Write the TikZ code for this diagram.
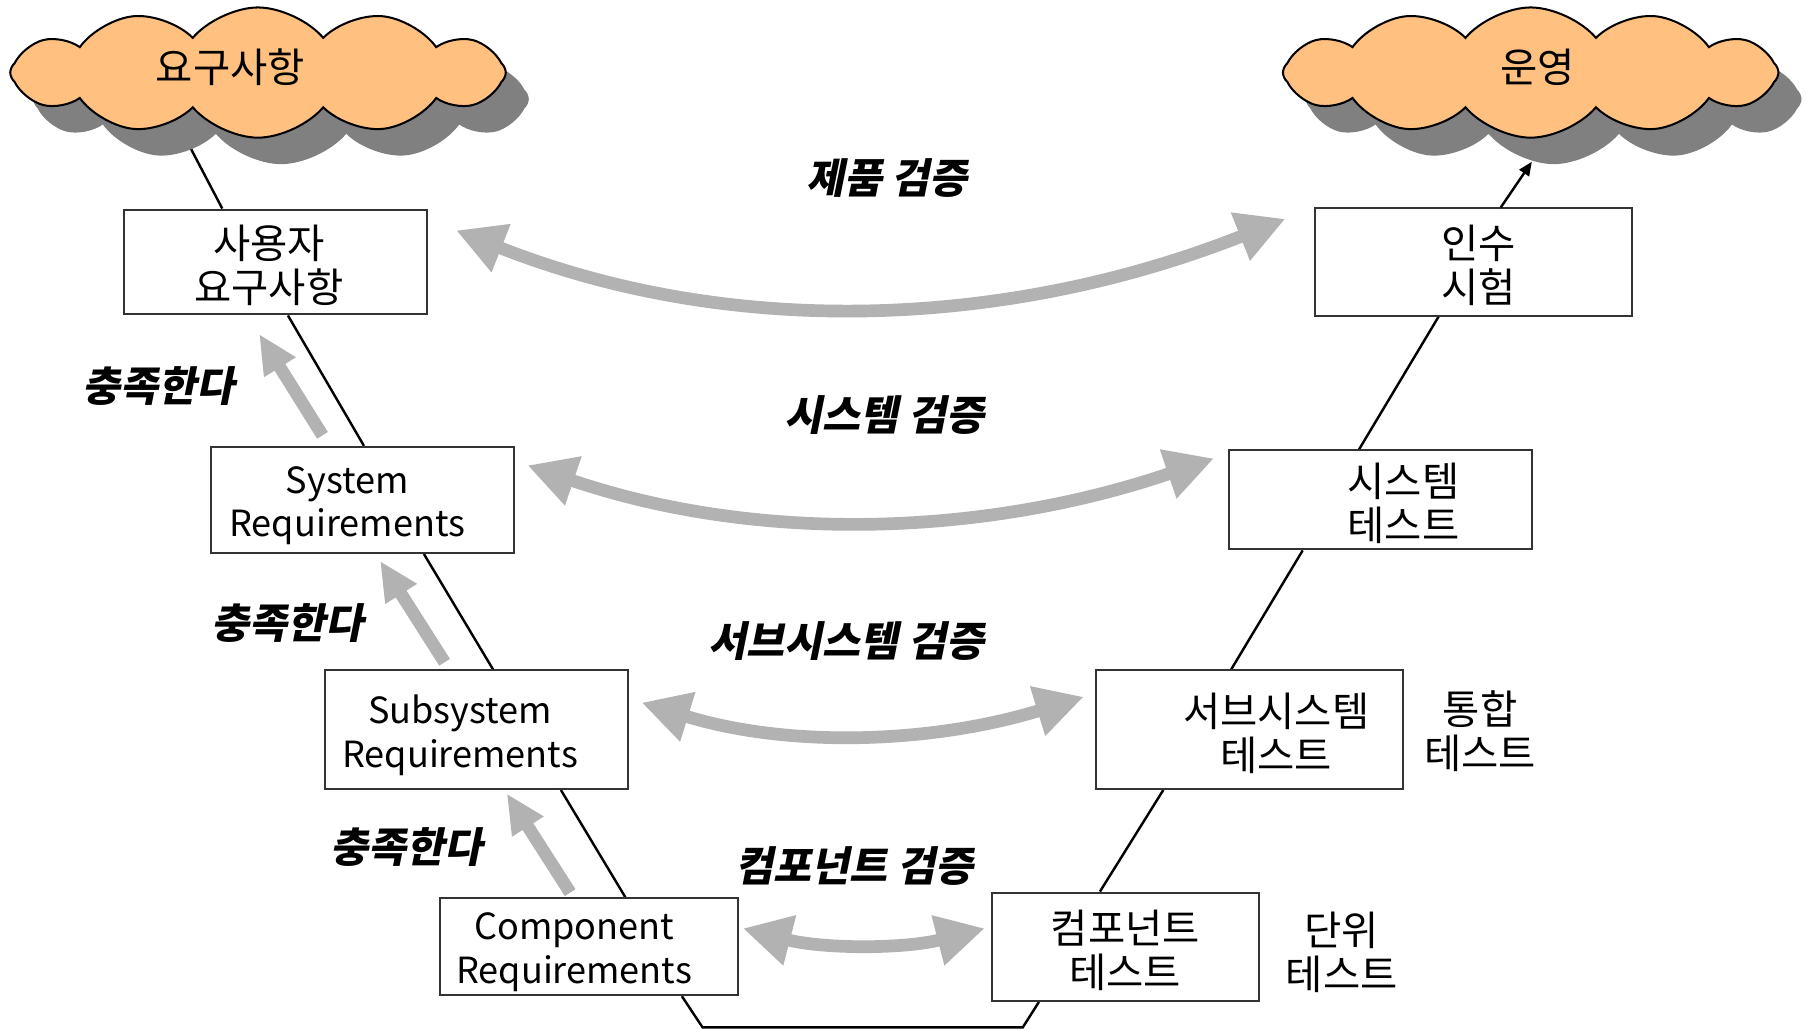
\documentclass[tikz,border=0pt]{standalone}
\usepackage{fontspec}
\setmainfont{Noto Sans CJK KR}
\newfontfamily\slantfont[FakeSlant=0.2]{Noto Sans CJK KR}
\usetikzlibrary{arrows.meta,shapes.symbols,shadows,calc,backgrounds}

\definecolor{cloudorange}{RGB}{255,192,128}
\definecolor{arrowgray}{RGB}{178,178,178}

\tikzset{
  boxfont/.style = {font=\fontsize{10}{11}\selectfont},
  latinfont/.style = {font=\fontsize{8.9}{10.8}\selectfont},
  reqbox/.style = {draw=black!80, line width=.5pt, fill=white, inner sep=0pt},
  boxtext/.style = {align=center, boxfont, yshift=-.03cm},
  entext/.style = {align=center, latinfont, yshift=-.05cm},
  wish/.style = {cloud, cloud puffs=12, cloud puff arc=100, cloud ignores aspect,
    draw=black, line width=.5pt, fill=cloudorange,
    minimum width=4.3cm, minimum height=1.13cm,
    drop shadow={shadow xshift=.2cm, shadow yshift=-.23cm, fill=black!50, opacity=1}},
  vline/.style = {draw=black, line width=.6pt},
  satisfy/.style = {draw=arrowgray, line width=.11cm, -{Triangle[length=.34cm,width=.3cm]}},
  verify/.style = {draw=arrowgray, line width=.11cm,
    {Triangle[length=.42cm,width=.42cm]}-{Triangle[length=.42cm,width=.42cm]}},
  tag/.style = {font=\slantfont\bfseries\fontsize{10.2}{11}\selectfont},
}

\begin{document}
\begin{tikzpicture}[x=0.01cm, y=-0.01cm]
  \useasboundingbox (0,0) rectangle (1568,894);

  % clouds
  \node[wish] (reqL) at (224,63) {};
  \node[boxfont] (reqLtxt) at (200,58) {요구사항};
  \node[wish] (opR) at (1329,63) {};
  \node[boxfont] (opRtxt) at (1335,58) {운영};

  % left side
  \node[reqbox, minimum width=2.63cm, minimum height=.91cm,
    label={[boxtext, xshift=-.06cm]center:{사용자\\요구사항}}] (usr) at (239.5,227.5) {};
  \node[reqbox, minimum width=2.63cm, minimum height=.92cm,
    label={[entext, xshift=-.13cm]center:{System\\Requirements}}] (sysreq) at (314.5,434) {};
  \node[reqbox, minimum width=2.63cm, minimum height=1.03cm,
    label={[entext, xshift=-.14cm]center:{Subsystem\\Requirements}}] (subreq) at (413.5,633.5) {};
  \node[reqbox, minimum width=2.59cm, minimum height=.84cm,
    label={[entext, xshift=-.13cm]center:{Component\\Requirements}}] (compreq) at (511.5,822) {};

  % right side
  \node[reqbox, minimum width=2.75cm, minimum height=.93cm,
    label={[boxtext, xshift=.04cm]center:{인수\\시험}}] (acc) at (1279.5,227.5) {};
  \node[reqbox, minimum width=2.63cm, minimum height=.86cm,
    label={[boxtext, xshift=.2cm]center:{시스템\\테스트}}] (systest) at (1198.5,434) {};
  \node[reqbox, minimum width=2.66cm, minimum height=1.03cm,
    label={[boxtext, xshift=.23cm]center:{서브시스템\\테스트}}] (subtest) at (1085,633.5) {};
  \node[reqbox, minimum width=2.32cm, minimum height=.94cm,
    label={[boxtext]center:{컴포넌트\\테스트}}] (comptest) at (977,822) {};

  \node[boxtext] (integ) at (1285,632) {통합\\테스트};
  \node[boxtext] (unit) at (1165,824) {단위\\테스트};

  % the V
  \coordinate (vbotL) at (610,892);
  \coordinate (vbotR) at (888,892);
  \begin{scope}[on background layer]
    \fill[white] (0,0) rectangle (1568,894);
    \draw[vline] ($(reqL.south)+(-66,-6)$) -- ($(usr.north)+(-46.5,0)$);
    \draw[vline] ($(usr.south)+(10.5,0)$) -- ($(sysreq.north)+(1.5,0)$);
    \draw[vline] ($(sysreq.south)+(53.5,0)$) -- ($(subreq.north)+(14.5,0)$);
    \draw[vline] ($(subreq.south)+(73.5,0)$) -- ($(compreq.north)+(31.5,0)$);
    \draw[vline] ($(compreq.south)+(80.5,0)$) -- (vbotL) -- (vbotR) -- ($(comptest.south)+(-75,0)$);
    \draw[vline] ($(comptest.north)+(-22,0)$) -- ($(subtest.south)+(-75,0)$);
    \draw[vline] ($(subtest.north)+(-16,0)$) -- ($(systest.south)+(-67.5,0)$);
    \draw[vline] ($(systest.north)+(-18.5,0)$) -- ($(acc.south)+(-30.5,0)$);
  \end{scope}
  \draw[vline, -{Triangle[length=.12cm,width=.1cm]}] ($(acc.north)+(23.5,0)$) -- ($(opR.south)+(1,20)$);

  % satisfies
  \coordinate (s1a) at (280,378);
  \coordinate (s1b) at (225,290);
  \coordinate (s2a) at (386,575);
  \coordinate (s2b) at (330,487);
  \coordinate (s3a) at (495,775);
  \coordinate (s3b) at (440,689);
  \draw[satisfy] (s1a) -- (s1b);
  \draw[satisfy] (s2a) -- (s2b);
  \draw[satisfy] (s3a) -- (s3b);
  \node[tag] (sat1) at (138,335) {충족한다};
  \node[tag] (sat2) at (250,541) {충족한다};
  \node[tag] (sat3) at (353,735) {충족한다};

  % verification
  \coordinate (pvL) at (396,200);
  \coordinate (pvR) at (1116,190);
  \coordinate (svL) at (458,404);
  \coordinate (svR) at (1054,398);
  \coordinate (bvL) at (557,610);
  \coordinate (bvR) at (941,605);
  \coordinate (cvL) at (645,806);
  \coordinate (cvR) at (855,806);
  \draw[verify] (pvL) .. controls +(240,95) and +(-240,95) .. (pvR);
  \draw[verify] (svL) .. controls +(200,68) and +(-200,68) .. (svR);
  \draw[verify] (bvL) .. controls +(130,40) and +(-130,40) .. (bvR);
  \draw[verify] (cvL) .. controls +(70,18) and +(-70,18) .. (cvR);
  \node[tag] (prodv) at (770,155) {제품 검증};
  \node[tag] (sysv) at (768,360) {시스템 검증};
  \node[tag] (subv) at (735,557) {서브시스템 검증};
  \node[tag] (compv) at (742,752) {컴포넌트 검증};

\end{tikzpicture}
\end{document}
